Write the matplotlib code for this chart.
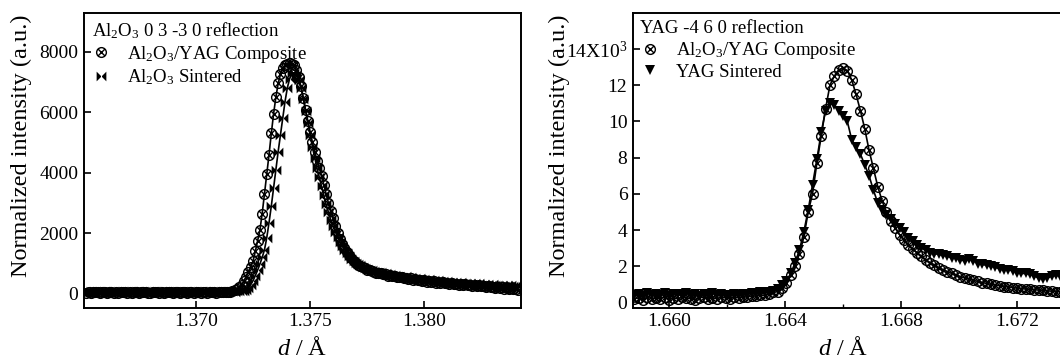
import numpy as np
import matplotlib
matplotlib.use("Agg")
import matplotlib.pyplot as plt
from matplotlib.path import Path
from matplotlib.lines import Line2D

plt.rcParams['font.family'] = ['Liberation Serif', 'DejaVu Serif']
plt.rcParams['mathtext.fontset'] = 'custom'
plt.rcParams['mathtext.rm'] = 'Liberation Serif'
plt.rcParams['mathtext.it'] = 'Liberation Serif:italic'

# Al2O3 0 3 -3 0 reflection, d sampled from 1.3652 in 0.0001 A steps
al_d0, al_step = 1.3652, 0.0001
al_comp = [40, 60, 30, 55, 70, 45, 35, 60, 50, 25, 45, 65, 40, 55, 30, 50,
           60, 45, 35, 55, 40, 65, 50, 30, 45, 55, 60, 40, 35, 50, 45, 60,
           30, 55, 40, 50, 65, 45, 35, 55, 50, 40, 60, 45, 30, 55, 50, 40,
           60, 45, 35, 50, 55, 40, 45, 60, 50, 35, 55, 45, 50, 60, 55, 70,
           90, 120, 160, 220, 300, 420, 560, 720, 880, 1080, 1400, 1750,
           2100, 2650, 3300, 3950, 4600, 5300, 5950, 6500, 6950, 7250, 7450,
           7550, 7600, 7620, 7600, 7550, 7400, 7150, 6850, 6480, 6080, 5700,
           5350, 5000, 4700, 4400, 4150, 3900, 3600, 3300, 3000, 2750, 2500,
           2250, 2000, 1820, 1660, 1510, 1390, 1280, 1180, 1090,
           1000, 960, 930, 870, 850, 800, 790, 740, 730, 690,
           680, 690, 640, 650, 600, 620, 570, 590, 540, 560,
           540, 510, 530, 480, 510, 460, 490, 440, 470, 430,
           440, 400, 430, 380, 410, 370, 390, 350, 375, 340,
           350, 330, 345, 310, 335, 300, 320, 290, 310, 280,
           290, 270, 285, 250, 275, 240, 265, 225, 250, 220,
           230, 200, 225, 180, 210, 170, 195, 150, 180, 140, 165, 130]
al_sint = [70, 50, 85, 60, 75, 95, 55, 70, 90, 60, 80, 50, 75, 95, 65, 55,
           85, 70, 60, 90, 75, 55, 80, 65, 95, 70, 60, 85, 50, 75, 90, 65,
           70, 55, 85, 75, 60, 95, 70, 50, 80, 65, 90, 75, 60, 85, 55, 70,
           95, 65, 75, 50, 85, 70, 60, 90, 75, 65, 80, 55, 70, 90, 65, 75,
           80, 70, 85, 75, 90, 100,
           130, 200, 300, 430, 600, 780, 980, 1200, 1450, 1850, 2350, 2900,
           3500, 4100, 4700, 5250, 5800, 6350, 6800, 7100, 7280, 7300, 7220,
           7050, 6800, 6450, 6050, 5650, 5250, 4850, 4500, 4150, 3850, 3550,
           3250, 2950, 2700, 2450, 2250, 2050, 1880, 1720, 1580, 1460, 1350,
           1250, 1160, 1090,
           1030, 980, 940, 900, 865, 830, 800, 775, 750, 725,
           705, 720, 660, 690, 630, 650, 600, 620, 570, 590,
           560, 540, 570, 520, 545, 500, 525, 480, 510, 470,
           490, 445, 480, 430, 460, 415, 445, 400, 430, 385,
           410, 370, 400, 360, 385, 345, 380, 330, 365, 320,
           350, 315, 345, 300, 340, 290, 330, 285, 320, 280,
           310, 275, 305, 270, 300, 265, 295, 260, 290, 255, 285, 250]

# YAG -4 6 0 reflection, d sampled from 1.6588 in 0.00015 A steps (x10^3)
yag_d0, yag_step = 1.6588, 0.00015
yag_comp = [0.2, 0.25, 0.15, 0.3, 0.2, 0.25, 0.2, 0.3, 0.15, 0.25,
            0.2, 0.3, 0.25, 0.2, 0.15, 0.25, 0.3, 0.2, 0.25, 0.2,
            0.3, 0.25, 0.2, 0.3, 0.25, 0.3, 0.3, 0.35, 0.35, 0.4,
            0.4, 0.45, 0.55, 0.6, 0.8, 1.05, 1.5, 2.0, 2.7, 3.6,
            5.0, 6.0, 7.7, 9.2, 10.7, 12.0, 12.5, 12.85, 12.95, 12.8,
            12.3, 11.5, 10.6, 9.6, 8.4, 7.4, 6.4, 5.6, 5.0, 4.5,
            4.1, 3.75, 3.45, 3.2, 2.95, 2.75, 2.55, 2.35, 2.2, 2.05,
            1.9, 1.8, 1.7, 1.6, 1.5, 1.42, 1.35, 1.28, 1.22, 1.16,
            1.1, 1.05, 1.0, 0.96, 0.92, 0.88, 0.85, 0.82, 0.79, 0.76,
            0.74, 0.72, 0.7, 0.68, 0.66, 0.64, 0.62, 0.6, 0.58, 0.56,
            0.55, 0.54]
yag_sint = [0.4, 0.45, 0.35, 0.5, 0.4, 0.45, 0.4, 0.5, 0.35, 0.45,
            0.45, 0.4, 0.5, 0.4, 0.45, 0.35, 0.45, 0.4, 0.5, 0.4,
            0.45, 0.4, 0.4, 0.45, 0.4, 0.45, 0.45, 0.5, 0.5, 0.55,
            0.55, 0.6, 0.65, 0.75, 0.95, 1.2, 1.6, 2.2, 2.9, 3.9,
            5.1, 6.5, 7.9, 9.4, 10.6, 11.0, 10.9, 10.6, 10.3, 10.0,
            9.0, 8.6, 8.2, 7.6, 7.0, 6.2, 5.5, 5.1, 4.85, 4.6,
            4.35, 4.1, 3.9, 3.55, 3.4, 3.2, 3.0, 2.9, 2.75, 2.7,
            2.65, 2.6, 2.55, 2.45, 2.45, 2.35, 2.3, 2.4, 2.3, 2.15,
            2.1, 2.05, 2.0, 1.95, 1.85, 1.8, 1.8, 1.75, 1.65, 1.6,
            1.6, 1.55, 1.45, 1.35, 1.3, 1.35, 1.45, 1.5, 1.45, 1.5,
            1.45, 1.5]

# marker shapes: circle with a cross, and a filled bow tie
otimes = Path.make_compound_path(
    Path.unit_circle(),
    Path([(-0.7, -0.7), (0.7, 0.7)], [Path.MOVETO, Path.LINETO]),
    Path([(-0.7, 0.7), (0.7, -0.7)], [Path.MOVETO, Path.LINETO]))
bowtie = Path([(-1, -1), (0, 0), (-1, 1), (-1, -1), (1, -1), (0, 0), (1, 1), (1, -1)],
              [Path.MOVETO, Path.LINETO, Path.LINETO, Path.CLOSEPOLY,
               Path.MOVETO, Path.LINETO, Path.LINETO, Path.CLOSEPOLY])

fs = 13.5
lab_fs = 17.5
fig = plt.figure(figsize=(10.6, 3.59), dpi=100)
ax1 = fig.add_axes([84 / 1060, 51.5 / 359, 437 / 1060, 294.7 / 359])
ax2 = fig.add_axes([633 / 1060, 51.5 / 359, 442 / 1060, 294.7 / 359])


def style(ax):
    for s in ax.spines.values():
        s.set_linewidth(1.4)
    ax.tick_params(direction='in', which='major', length=5, width=1.2,
                   labelsize=14, top=False, right=False, pad=4)
    ax.tick_params(direction='in', which='minor', length=3, width=1.0,
                   top=False, right=False)


comp_kw = dict(color='black', lw=1.2, marker=otimes, ms=7, mfc='none', mew=1.0)
leg_kw = dict(loc='upper left', frameon=False, fontsize=fs, title_fontsize=fs,
              alignment='left', handlelength=1.0, handletextpad=0.9,
              labelspacing=0.15, borderaxespad=0.25, borderpad=0.15)

# left panel
d1 = al_d0 + al_step * np.arange(len(al_comp))
d1s = al_d0 + al_step * np.arange(len(al_sint))
ax1.plot(d1s, al_sint, color='black', lw=1.2, marker=bowtie, ms=7, mew=0)
ax1.plot(d1, al_comp, **comp_kw)
ax1.set_xlim(1.3651, 1.38423)
ax1.set_ylim(-455, 9285)
ax1.set_xticks([1.370, 1.375, 1.380])
ax1.set_xticklabels(['1.370', '1.375', '1.380'])
ax1.set_yticks([0, 2000, 4000, 6000, 8000])
style(ax1)
ax1.set_ylabel('Normalized intensity (a.u.)', fontsize=lab_fs)
ax1.yaxis.set_label_coords(-0.12, 0.548)
ax1.set_xlabel(r'$d$ / Å', fontsize=lab_fs)
ax1.xaxis.set_label_coords(0.5, -0.1)
h1 = [Line2D([], [], ls='none', color='black', marker=otimes, ms=7, mfc='none', mew=1.0),
      Line2D([], [], ls='none', color='black', marker=bowtie, ms=7, mew=0)]
ax1.legend(h1, [r'Al$_2$O$_3$/YAG Composite', r'Al$_2$O$_3$ Sintered'],
           title=r'Al$_2$O$_3$ 0 3 -3 0 reflection', **leg_kw)

# right panel
d2 = yag_d0 + yag_step * np.arange(len(yag_comp))
d2s = yag_d0 + yag_step * np.arange(len(yag_sint))
ax2.plot(d2s, yag_sint, color='black', lw=1.2, marker='v', ms=7.5, mew=0)
ax2.plot(d2, yag_comp, **comp_kw)
ax2.set_xlim(1.65876, 1.674)
ax2.set_ylim(-0.28, 16)
ax2.set_xticks([1.660, 1.664, 1.668, 1.672])
ax2.set_xticklabels(['1.660', '1.664', '1.668', '1.672'])
ax2.set_xticks([1.662, 1.666, 1.670], minor=True)
ax2.set_yticks([0, 2, 4, 6, 8, 10, 12, 14])
ax2.set_yticklabels(['0', '2', '4', '6', '8', '10', '12', r'14X10$^3$'])
style(ax2)
ax2.set_ylabel('Normalized intensity (a.u.)', fontsize=lab_fs)
ax2.yaxis.set_label_coords(-0.143, 0.548)
ax2.set_xlabel(r'$d$ / Å', fontsize=lab_fs)
ax2.xaxis.set_label_coords(0.475, -0.1)
h2 = [Line2D([], [], ls='none', color='black', marker=otimes, ms=7, mfc='none', mew=1.0),
      Line2D([], [], ls='none', color='black', marker='v', ms=7.5, mew=0)]
ax2.legend(h2, [r'Al$_2$O$_3$/YAG Composite', 'YAG Sintered'],
           title='YAG -4 6 0 reflection', **leg_kw)

fig.savefig('out.png', dpi=100)
